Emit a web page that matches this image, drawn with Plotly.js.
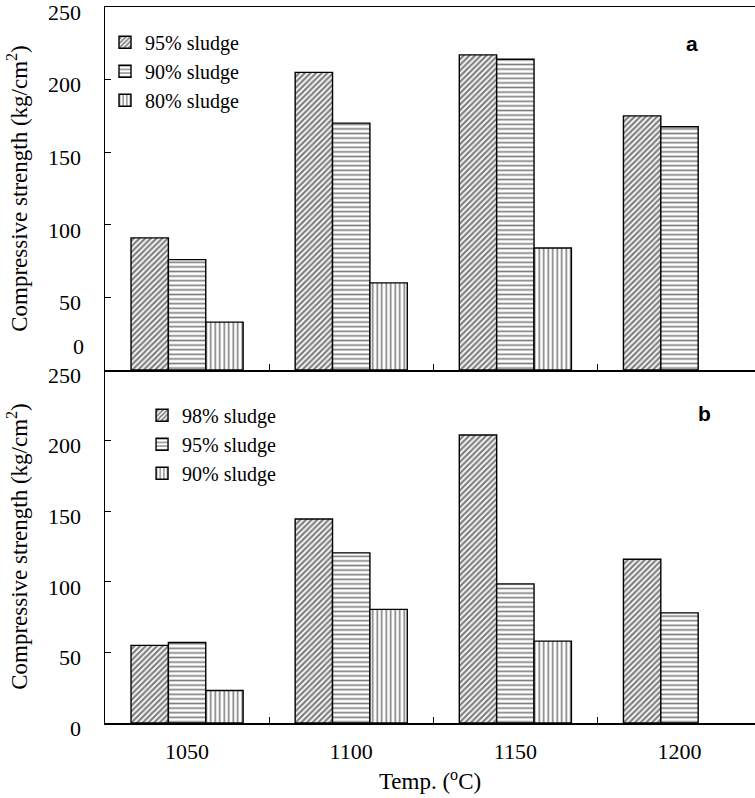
<!DOCTYPE html>
<html>
<head>
<meta charset="utf-8">
<script src="https://cdn.plot.ly/plotly-3.0.1.min.js"></script>
<style>html,body{margin:0;padding:0;background:#fff;}#chart{width:755px;height:798px;}</style>
</head>
<body>
<div id="chart"></div>
<script>
// ---- data ----
const temps = ["1050", "1100", "1150", "1200"];

// panel a
const namesA = ["95% sludge", "90% sludge", "80% sludge"];
const a95 = [91, 205, 217, 175];
const a90 = [76, 170, 214, 167.5];
const a80 = [33, 60, 84, null];

// panel b
const namesB = ["98% sludge", "95% sludge", "90% sludge"];
const b98 = [55, 144.5, 204, 116];
const b95 = [57, 120.5, 98.5, 78];
const b90 = [23, 80.5, 58, null];

const yTickVals = [0, 50, 100, 150, 200, 250];
const yTickValsTop = [50, 100, 150, 200, 250];
const topZeroLabel = "0";
const panelLabels = ["a", "b"];
const xTitle = "Temp. (<sup>o</sup>C)";
const yTitle = "Compressive strength (kg/cm<sup>2</sup>)";

// ---- styling ----
const serif = "Liberation Serif, Times New Roman, serif";
const shapes = ["/", "-", "|"];
const psize = [4, 4.6, 4.5];
const psol = [0.55, 0.36, 0.36];

function mk(name, y, i, xa, ya, leg) {
  return {
    type: "bar", name: name, x: temps, y: y, xaxis: xa, yaxis: ya, legend: leg,
    marker: {
      color: "white",
      line: {color: "black", width: 1.4},
      pattern: {shape: shapes[i], fgcolor: "black", bgcolor: "white", size: psize[i], solidity: psol[i], fillmode: "overlay"}
    },
    hoverinfo: "skip"
  };
}

const data = [
  mk(namesA[0], a95, 0, "x2", "y2", "legend"),
  mk(namesA[1], a90, 1, "x2", "y2", "legend"),
  mk(namesA[2], a80, 2, "x2", "y2", "legend"),
  mk(namesB[0], b98, 0, "x", "y", "legend2"),
  mk(namesB[1], b95, 1, "x", "y", "legend2"),
  mk(namesB[2], b90, 2, "x", "y", "legend2")
];

const split = 0.493;
const tickFont = {family: serif, size: 22, color: "black"};
const titleFont = {family: serif, size: 23, color: "black"};

const layout = {
  width: 755, height: 798,
  margin: {l: 105, r: 0, t: 7, b: 75},
  paper_bgcolor: "white", plot_bgcolor: "white",
  barmode: "group", bargap: 0.317, bargroupgap: 0,
  font: {family: serif, color: "black"},
  xaxis: {
    type: "category", anchor: "y", range: [-0.5, 3.46],
    showline: true, linecolor: "black", linewidth: 1.5,
    ticks: "inside", tickson: "boundaries", ticklen: 6, tickcolor: "black", tickwidth: 1,
    showgrid: false, zeroline: false, tickfont: tickFont, ticklabelstandoff: 8,
    title: {text: xTitle, font: titleFont, standoff: 10}
  },
  xaxis2: {
    type: "category", anchor: "y2", matches: "x", range: [-0.5, 3.46],
    showline: true, mirror: true, linecolor: "black", linewidth: 1.5,
    ticks: "inside", tickson: "boundaries", ticklen: 6, tickcolor: "black", tickwidth: 1,
    showgrid: false, zeroline: false, showticklabels: false
  },
  yaxis: {
    domain: [0, split], range: [0, 250], anchor: "x",
    tickmode: "array", tickvals: yTickVals,
    showline: true, linecolor: "black", linewidth: 1.5,
    ticks: "inside", ticklen: 6, tickcolor: "black", tickwidth: 1,
    showgrid: false, zeroline: false, tickfont: tickFont,
    ticklabelstandoff: 18, ticklabelshift: 5, ticklabeloverflow: "allow",
    title: {text: yTitle, font: titleFont, standoff: 14}
  },
  yaxis2: {
    domain: [split, 1], range: [0, 250], anchor: "x2",
    tickmode: "array", tickvals: yTickValsTop,
    showline: true, linecolor: "black", linewidth: 1.5,
    ticks: "inside", ticklen: 6, tickcolor: "black", tickwidth: 1,
    showgrid: false, zeroline: false, tickfont: tickFont,
    ticklabelstandoff: 18, ticklabelshift: 5, ticklabeloverflow: "allow",
    title: {text: yTitle, font: titleFont, standoff: 14}
  },
  legend: {
    x: 0, y: 0.978, xanchor: "left", yanchor: "top",
    bgcolor: "rgba(0,0,0,0)", borderwidth: 0,
    font: {family: serif, size: 20, color: "black"},
    tracegroupgap: 0, itemwidth: 30, traceorder: "normal"
  },
  legend2: {
    x: 0.057, y: 0.457, xanchor: "left", yanchor: "top",
    bgcolor: "rgba(0,0,0,0)", borderwidth: 0,
    font: {family: serif, size: 20, color: "black"},
    tracegroupgap: 0, itemwidth: 30, traceorder: "normal"
  },
  annotations: [
    {text: panelLabels[0], xref: "paper", yref: "paper", x: 0.915, y: 0.968, showarrow: false,
     font: {family: "Liberation Sans, Arial, sans-serif", size: 21, color: "black", weight: "bold"}},
    {text: panelLabels[1], xref: "paper", yref: "paper", x: 0.935, y: 0.4316, showarrow: false,
     font: {family: "Liberation Sans, Arial, sans-serif", size: 21, color: "black", weight: "bold"}},
    {text: topZeroLabel, xref: "paper", yref: "y2", x: 0, y: 0, xanchor: "right", yanchor: "middle",
     xshift: -19, yshift: 24, showarrow: false, font: tickFont}
  ],
  showlegend: true
};

Plotly.newPlot("chart", data, layout, {staticPlot: true, displayModeBar: false});
</script>
</body>
</html>
